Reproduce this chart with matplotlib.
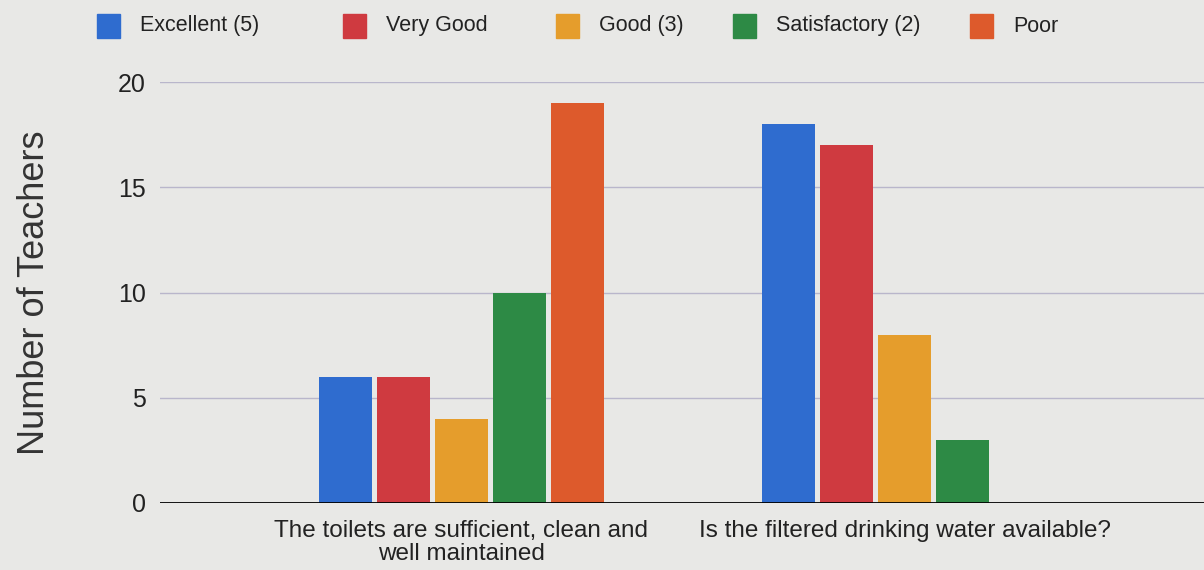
import matplotlib.pyplot as plt
import numpy as np
from matplotlib.patches import Rectangle

plt.rcParams['font.family'] = ['Liberation Sans', 'DejaVu Sans']

questions = ["The toilets are sufficient, clean and\nwell maintained",
             "Is the filtered drinking water available?"]
series = ["Excellent (5)", "Very Good", "Good (3)", "Satisfactory (2)", "Poor"]
excellent = [6, 18]
very_good = [6, 17]
good = [4, 8]
satisfactory = [10, 3]
poor = [19, 0]
colors = ["#2f6ccf", "#cf3a40", "#e59d2c", "#2d8a45", "#dd5a2c"]

# legend layout (figure x of each swatch)
legend_x = [97, 343, 556, 733, 970]

bg = "#e8e8e6"
fig = plt.figure(figsize=(12.04, 5.70), dpi=100, facecolor=bg)
ax = fig.add_axes([160 / 1204, 1 - 503 / 570, 1 - 160 / 1204, (503 - 82) / 570])
ax.set_facecolor(bg)

values = [excellent, very_good, good, satisfactory, poor]
x = np.arange(len(questions))
width = 0.12
step = 0.131
for i, (vals, c) in enumerate(zip(values, colors)):
    ax.bar(x + (i - 2) * step, vals, width, color=c, zorder=3)

ax.set_xlim(-0.68, 1.675)
ax.set_ylim(0, 20)
ax.set_yticks([0, 5, 10, 15, 20])
ax.grid(axis='y', color='#b9b6cb', linewidth=1, zorder=0)
ax.axhline(0, color='black', linewidth=2, zorder=4)
for s in ax.spines.values():
    s.set_visible(False)
ax.tick_params(axis='both', length=0, labelsize=18, colors='#222222')
ax.tick_params(axis='y', pad=10)
ax.set_xticks(x)
ax.set_xticklabels(questions, fontsize=17.5, linespacing=1.1)
ax.tick_params(axis='x', pad=12)
ax.set_ylabel("Number of Teachers", fontsize=26, color='#333333', labelpad=48)

for name, c, lx in zip(series, colors, legend_x):
    fig.patches.append(Rectangle((lx / 1204, 1 - 38 / 570), 23 / 1204, 24 / 570,
                                 transform=fig.transFigure, color=c))
    fig.text((lx + 43) / 1204, 1 - 26 / 570, name, fontsize=15.5,
             va='center', ha='left', color='#222222')

fig.savefig("out.png", dpi=100, facecolor=bg)
